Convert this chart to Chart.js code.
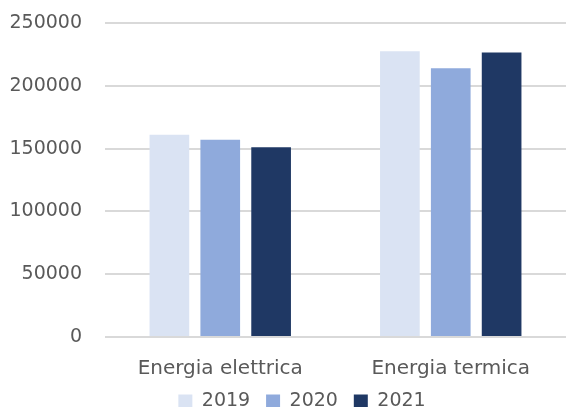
<!DOCTYPE html>
<html>
<head>
<meta charset="utf-8">
<script src="https://cdn.jsdelivr.net/npm/chart.js@4"></script>
<style>
  html, body { margin: 0; padding: 0; background: #fff; }
  #wrap { width: 566px; height: 407px; }
</style>
</head>
<body>
<div id="wrap"><canvas id="chart" width="566" height="407"></canvas></div>
<script>
// Data
const categories = ['Energia elettrica', 'Energia termica'];
const years = ['2019', '2020', '2021'];
const values2019 = [161000, 227500];
const values2020 = [157000, 214000];
const values2021 = [151000, 226500];
const yTicks = [0, 50000, 100000, 150000, 200000, 250000];

const colors = ['#dae3f3', '#8faadc', '#1f3864'];
const seriesValues = [values2019, values2020, values2021];
const textColor = '#595959';
const fontFamily = '"DejaVu Sans", sans-serif';

// legend sits tight against the bottom edge and a bit right of centre
const legendTweak = {
    id: 'legendTweak',
    afterInit(chart) {
        const lg = chart.legend;
        const fit = lg.fit;
        lg.fit = function () {
            fit.call(this);
            this.height -= 14;
        };
        const draw = lg.draw;
        lg.draw = function () {
            const l = this.left;
            this.left = l + 38;
            draw.call(this);
            this.left = l;
        };
    }
};

const ctx = document.getElementById('chart').getContext('2d');
new Chart(ctx, {
    type: 'bar',
    data: {
        labels: categories,
        datasets: years.map((y, i) => ({
            label: y,
            data: seriesValues[i],
            backgroundColor: colors[i],
            borderWidth: 0,
            categoryPercentage: 0.662,
            barPercentage: 0.78
        }))
    },
    plugins: [legendTweak],
    options: {
        responsive: false,
        animation: false,
        devicePixelRatio: 1,
        layout: { padding: { left: 0, right: 0, top: 23, bottom: 0 } },
        plugins: {
            legend: {
                display: true,
                position: 'bottom',
                labels: {
                    boxWidth: 14,
                    boxHeight: 14,
                    padding: 0,
                    color: textColor,
                    font: { family: fontFamily, size: 19 },
                    // spacing between items via trailing spaces (padding also sets height)
                    generateLabels: (chart) => {
                        const items = Chart.defaults.plugins.legend.labels.generateLabels(chart);
                        items.forEach((it, i) => {
                            it.lineWidth = 0;
                            if (i < items.length - 1) it.text = it.text + '  \u2009';
                        });
                        return items;
                    }
                }
            },
            tooltip: { enabled: false }
        },
        scales: {
            x: {
                grid: { display: false, drawTicks: false },
                border: { display: false },
                afterFit: (scale) => { scale.height = 55; },
                ticks: {
                    color: textColor,
                    padding: 20,
                    font: { family: fontFamily, size: 20 }
                }
            },
            y: {
                min: 0,
                max: 250000,
                afterFit: (scale) => {
                    scale.width = 105;
                    scale.paddingTop = 0;
                    scale.paddingBottom = 0;
                },
                afterBuildTicks: (scale) => {
                    scale.ticks = yTicks.map(v => ({ value: v }));
                },
                grid: { color: '#d9d9d9', lineWidth: 2, drawTicks: false },
                border: { display: false },
                ticks: {
                    color: textColor,
                    padding: 23,
                    font: { family: fontFamily, size: 19 },
                    callback: (v) => String(v)
                }
            }
        }
    }
});
</script>
</body>
</html>
